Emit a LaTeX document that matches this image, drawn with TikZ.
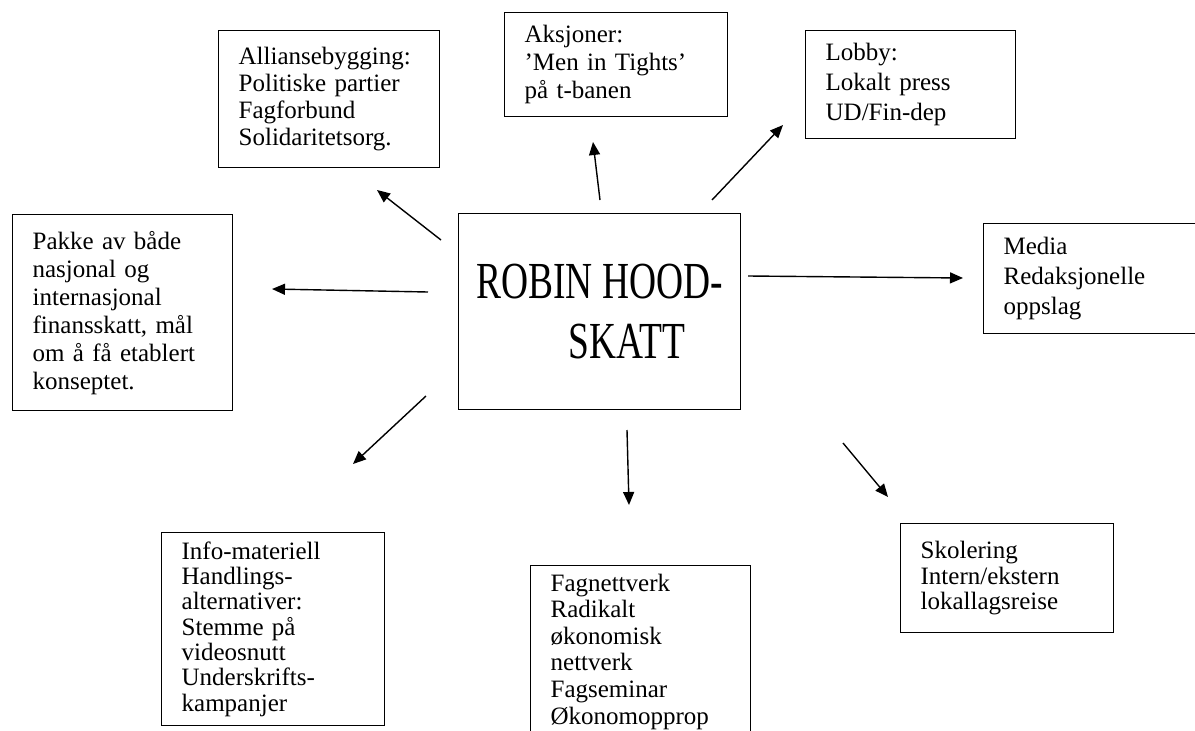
\documentclass[tikz,border=0pt]{standalone}
\usepackage{fontspec}
\setmainfont{Liberation Serif}
\newfontfamily\hubfont[FakeStretch=0.72]{Liberation Serif}
\usetikzlibrary{positioning}
\usetikzlibrary{arrows.meta}

\begin{document}
\begin{tikzpicture}[x=1pt, y=-1pt,
  box/.style={
    draw,
    rectangle,
    line width=1.3pt,
    anchor=north west,
    align=left,
    inner xsep=20pt,
    inner ysep=4pt,
    font=\fontsize{25}{28}\selectfont
  },
  hub/.style={
    draw,
    rectangle,
    line width=1.3pt,
    anchor=north west,
    align=center,
    font=\hubfont\fontsize{52}{60}\selectfont
  },
  arrow/.style={
    -{Triangle[length=13pt,width=11pt]},
    line width=1.4pt
  }]
		\useasboundingbox (0,0) rectangle (1195,731);
		% Nodes
		\node[hub, minimum width=282pt, minimum height=196pt] (hub) at (458,213) {ROBIN HOOD-\\\hspace*{55pt}SKATT};
		\node[box, text width=181pt, minimum height=137pt, font=\fontsize{25}{27}\selectfont] (allies) at (218,30) {Alliansebygging:\\Politiske partier\\Fagforbund\\Solidaritetsorg.};
		\node[box, text width=183pt, minimum height=104pt] (actions) at (504,12) {Aksjoner:\\'Men in Tights'\\på t-banen};
		\node[box, text width=170pt, minimum height=108pt, font=\fontsize{25}{30}\selectfont] (lobby) at (805,30) {Lobby:\\Lokalt press\\UD/Fin-dep};
		\node[box, text width=180pt, minimum height=196pt] (package) at (12,214) {Pakke av både\\nasjonal og\\internasjonal\\finansskatt, mål\\om å få etablert\\konseptet.};
		\node[box, text width=180pt, minimum height=110pt, font=\fontsize{25}{30}\selectfont] (media) at (983,223) {Media\\Redaksjonelle\\oppslag};
		\node[box, text width=183pt, minimum height=193pt, font=\fontsize{25}{25.3}\selectfont] (info) at (161,532) {Info-materiell\\Handlings-\\alternativer:\\Stemme på\\videosnutt\\Underskrifts-\\kampanjer};
		\node[box, text width=180pt, minimum height=172pt, font=\fontsize{25}{26.6}\selectfont] (network) at (530,565) {Fagnettverk\\Radikalt\\økonomisk\\nettverk\\Fagseminar\\Økonomopprop};
		\node[box, text width=173pt, minimum height=109pt, font=\fontsize{25}{25.5}\selectfont] (school) at (900,523) {Skolering\\Intern/ekstern\\lokallagsreise};
		% Arrow ends
		\coordinate (allies-a) at (441,240);  \coordinate (allies-b) at (377,190);
		\coordinate (actions-a) at (600,200); \coordinate (actions-b) at (593,142);
		\coordinate (lobby-a) at (712,200);   \coordinate (lobby-b) at (783,125);
		\coordinate (package-a) at (428,292); \coordinate (package-b) at (272,289);
		\coordinate (media-a) at (748,276);   \coordinate (media-b) at (963,278);
		\coordinate (info-a) at (426,396);    \coordinate (info-b) at (353,464);
		\coordinate (network-a) at (627,430); \coordinate (network-b) at (629,505);
		\coordinate (school-a) at (843,443);  \coordinate (school-b) at (888,497);
		% Arrows
		\draw[arrow] (allies-a) -- (allies-b);
		\draw[arrow] (actions-a) -- (actions-b);
		\draw[arrow] (lobby-a) -- (lobby-b);
		\draw[arrow] (package-a) -- (package-b);
		\draw[arrow] (media-a) -- (media-b);
		\draw[arrow] (info-a) -- (info-b);
		\draw[arrow] (network-a) -- (network-b);
		\draw[arrow] (school-a) -- (school-b);
	\end{tikzpicture}
\end{document}
